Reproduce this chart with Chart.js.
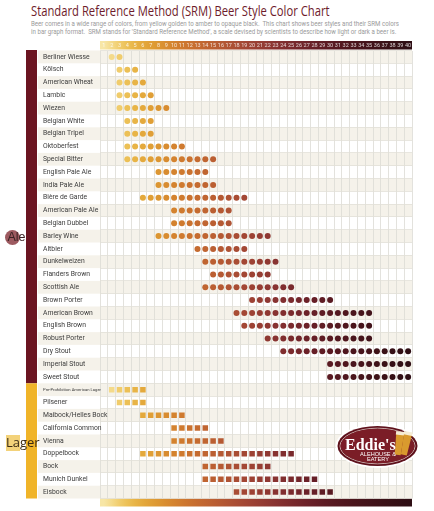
<!DOCTYPE html>
<html>
<head>
<meta charset="utf-8">
<script src="https://cdn.jsdelivr.net/npm/chart.js@4.4.1/dist/chart.umd.min.js"></script>
<style>
  html, body { margin: 0; padding: 0; background: #fff; }
  #wrap { position: relative; width: 434px; height: 511px; overflow: hidden; }
  #title { position: absolute; left: 31px; top: 3px; font-family: 'Open Sans', sans-serif; font-size: 14px; line-height: 16px; color: #6e1b2b; white-space: nowrap; transform-origin: 0 0; }
  .sub { position: absolute; left: 31px; font-family: 'Roboto', sans-serif; font-size: 6.4px; line-height: 7px; color: #9a9a9a; white-space: nowrap; transform-origin: 0 0; }
  canvas { position: absolute; left: 0; top: 0; }
</style>
</head>
<body>
<div id="wrap">
  <div id="title">Standard Reference Method (SRM) Beer Style Color Chart</div>
  <div class="sub" id="sub1" style="top:20.5px">Beer comes in a wide range of colors, from yellow golden to amber to opaque black.&nbsp; This chart shows beer styles and their SRM colors</div>
  <div class="sub" id="sub2" style="top:28.5px">in bar graph format.&nbsp; SRM stands for 'Standard Reference Method', a scale devised by scientists to describe how light or dark a beer is.</div>
  <canvas id="srmChart" width="434" height="511"></canvas>
</div>
<script>
// SRM scale 1..40
const srmTicks = ['1','2','3','4','5','6','7','8','9','10','11','12','13','14','15','16','17','18','19','20',
  '21','22','23','24','25','26','27','28','29','30','31','32','33','34','35','36','37','38','39','40'];
const srmColors = ['#f7e6a6','#f4da8a','#f0cc6c','#ecc056','#e8b446','#e4a93c','#e09f36','#dc9632','#d88c30','#d4832f',
  '#cf7a2f','#ca722f','#c56b30','#c06531','#bb5f32','#b55933','#af5334','#a94d34','#a34734','#9d4234',
  '#963d33','#8f3832','#883331','#812e2f','#7a2a2d','#73262b','#6c2229','#661f27','#5f1c24','#591a22',
  '#541820','#4f161e','#4a151c','#46141b','#42131a','#3e1218','#3a1117','#361016','#320f15','#2e0e14'];

// ales (round dots)
const aleStyles = ['Berliner Wiesse','Kölsch','American Wheat','Lambic','Wiezen','Belgian White','Belgian Tripel',
  'Oktoberfest','Special Bitter','English Pale Ale','India Pale Ale','Bière de Garde','American Pale Ale',
  'Belgian Dubbel','Barley Wine','Altbier','Dunkelweizen','Flanders Brown','Scottish Ale','Brown Porter',
  'American Brown','English Brown','Robust Porter','Dry Stout','Imperial Stout','Sweet Stout'];
const aleLow  = [2,3,3,3,3,4,4,4,4,8,8,6,10,10,8,13,14,15,14,20,18,19,22,24,30,30];
const aleHigh = [3,5,6,7,9,7,7,11,15,14,15,19,17,17,22,19,23,22,25,30,35,35,35,40,40,40];

// lagers (square dots)
const lagerStyles = ['Pre-Prohibition American Lager','Pilsener','Maibock/Helles Bock','California Common',
  'Vienna','Doppelbock','Bock','Munich Dunkel','Eisbock'];
const lagerLow  = [2,3,6,10,10,6,14,14,18];
const lagerHigh = [6,6,11,14,16,25,22,28,30];

const rowLabels = aleStyles.concat(lagerStyles);

function dots(names, low, high) {
  const pts = [];
  names.forEach((n, i) => {
    for (let s = low[i]; s <= high[i]; s++) pts.push({x: String(s), y: n});
  });
  return pts;
}

// squeeze the html text to the widths of the original
function fit(id, w) {
  const el = document.getElementById(id);
  el.style.transform = 'scaleX(' + (w / el.offsetWidth) + ')';
}
fit('title', 299);
fit('sub1', 368);
fit('sub2', 365);

const labelFont = "'Roboto', sans-serif";

const backdrop = {
  id: 'backdrop',
  beforeDraw(chart) {
    const {ctx, chartArea: a, scales} = chart;
    const h = (a.bottom - a.top) / rowLabels.length;
    ctx.save();
    ctx.fillStyle = '#f5f2ea';
    for (let i = 0; i < rowLabels.length; i += 2) {
      const yc = scales.y.getPixelForValue(i);
      ctx.fillRect(38, yc - h / 2, a.right - 38, h);
    }
    const split = scales.y.getPixelForValue(aleStyles.length) - h / 2;
    ctx.fillStyle = '#6b1521';
    ctx.fillRect(26, a.top - 0.5, 11, split - a.top + 0.5);
    ctx.fillStyle = '#f0b429';
    ctx.fillRect(26, split, 11, a.bottom - split);

    const g = ctx.createLinearGradient(a.left, 0, a.right, 0);
    srmColors.forEach((c, i) => g.addColorStop((i + 0.5) / srmColors.length, c));
    ctx.fillStyle = g;
    ctx.fillRect(a.left, scales.x.top, a.right - a.left, 8.5);
    ctx.fillRect(a.left, scales.x2.top, a.right - a.left, 8);
    ctx.restore();
  },
  afterDraw(chart) {
    const ctx = chart.ctx;
    ctx.save();
    // Ale / Lager group names
    ctx.fillStyle = '#9d5a60';
    ctx.beginPath();
    ctx.arc(12.5, 237.5, 7.5, 0, Math.PI * 2);
    ctx.fill();
    ctx.fillStyle = '#f3d27a';
    ctx.fillRect(6, 435, 14, 16);
    ctx.fillStyle = '#3a2224';
    ctx.font = "12.5px 'Liberation Sans', sans-serif";
    ctx.textBaseline = 'middle';
    ctx.fillText('Ale', 7.5, 238);
    ctx.fillStyle = '#3a2a14';
    ctx.font = "13px 'Open Sans', sans-serif";
    ctx.fillText('Lager', 6, 443);

    // Eddie's logo
    const cx = 377.5, cy = 446;
    ctx.fillStyle = '#fff';
    ctx.beginPath(); ctx.ellipse(cx, cy, 42, 22, 0, 0, Math.PI * 2); ctx.fill();
    ctx.fillStyle = '#5e111b';
    ctx.beginPath(); ctx.ellipse(cx, cy, 40, 20, 0, 0, Math.PI * 2); ctx.fill();
    ctx.strokeStyle = '#e9d6d0';
    ctx.lineWidth = 0.8;
    ctx.beginPath(); ctx.ellipse(cx, cy, 37.5, 17.8, 0, 0, Math.PI * 2); ctx.stroke();
    ctx.fillStyle = '#7b1d27';
    ctx.beginPath(); ctx.ellipse(cx, cy, 37, 17.3, 0, 0, Math.PI * 2); ctx.fill();
    // glasses
    [[399, 0.12], [406, 0.2]].forEach(([gx, rot]) => {
      ctx.save();
      ctx.translate(gx, 444);
      ctx.rotate(rot);
      ctx.fillStyle = '#d99a2e';
      ctx.beginPath();
      ctx.moveTo(-4, -10); ctx.lineTo(4, -10); ctx.lineTo(3, 11); ctx.lineTo(-3, 11); ctx.closePath();
      ctx.fill();
      ctx.fillStyle = '#f6edd6';
      ctx.fillRect(-4.3, -12.5, 8.6, 3.5);
      ctx.restore();
    });
    ctx.fillStyle = '#fff';
    ctx.textBaseline = 'alphabetic';
    ctx.font = "bold 16px 'Liberation Serif', serif";
    ctx.fillText("Eddie's", 345, 450);
    ctx.font = "5.6px 'Liberation Sans', sans-serif";
    ctx.textAlign = 'center';
    ctx.fillText('ALEHOUSE &', 378, 455.5);
    ctx.fillText('EATERY', 378, 461);
    ctx.restore();
  }
};

new Chart(document.getElementById('srmChart'), {
  type: 'scatter',
  data: {
    datasets: [{
      label: 'Ale',
      data: dots(aleStyles, aleLow, aleHigh),
      pointStyle: 'circle',
      pointRadius: 3,
      pointHoverRadius: 3,
      borderWidth: 0,
      backgroundColor: ctx => ctx.raw ? srmColors[+ctx.raw.x - 1] : '#999'
    }, {
      label: 'Lager',
      data: dots(lagerStyles, lagerLow, lagerHigh),
      pointStyle: 'rect',
      pointRadius: 3.9,
      pointHoverRadius: 3.9,
      borderWidth: 0,
      backgroundColor: ctx => ctx.raw ? srmColors[+ctx.raw.x - 1] : '#999'
    }]
  },
  options: {
    responsive: false,
    animation: false,
    devicePixelRatio: 1,
    layout: { padding: { left: 43, right: 22, top: 41, bottom: 4.5 } },
    plugins: { legend: { display: false }, tooltip: { enabled: false } },
    scales: {
      x: {
        type: 'category',
        labels: srmTicks,
        position: 'top',
        offset: true,
        border: { display: false },
        grid: { offset: true, color: '#dcdad4', lineWidth: 0.8, drawTicks: false },
        ticks: { color: 'rgba(255,255,255,0.8)', padding: 2, maxRotation: 0, autoSkip: false,
          font: { family: labelFont, size: 5.5 } },
        afterFit: s => { s.height = 9.5; }
      },
      x2: {
        type: 'category',
        labels: srmTicks,
        position: 'bottom',
        offset: true,
        border: { display: false },
        grid: { display: false },
        ticks: { color: 'rgba(255,255,255,0.8)', padding: 0, maxRotation: 0, autoSkip: false,
          font: { family: labelFont, size: 5.5 } },
        afterFit: s => { s.height = 8; }
      },
      y: {
        type: 'category',
        labels: rowLabels,
        offset: true,
        border: { display: false },
        grid: { offset: true, color: '#e2dfd8', lineWidth: 0.8, drawTicks: false },
        // mirrored with a negative padding so long names are not clipped to the axis box
        ticks: {
          color: '#3b3b3b', mirror: true, padding: -57, crossAlign: 'near', autoSkip: false,
          font: ctx => ({ family: labelFont, size: ctx.index === aleStyles.length ? 4.2 : 6.8 })
        },
        afterFit: s => { s.width = 57; }
      }
    }
  },
  plugins: [backdrop]
});
</script>
</body>
</html>
